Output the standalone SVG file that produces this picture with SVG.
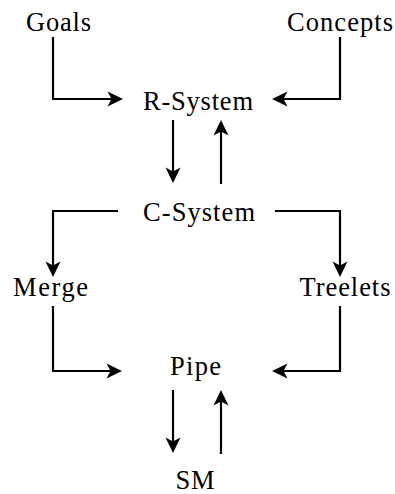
<svg xmlns="http://www.w3.org/2000/svg" width="395" height="494" viewBox="0 0 395 494">
<defs>
<style>
text{font-family:"Liberation Serif","Times New Roman",serif;font-size:26.5px;fill:#000;text-anchor:middle}
.c{fill:none;stroke:#000;stroke-width:2.2}
</style>
<marker id="ah" viewBox="-10 -9 18 18" markerWidth="18" markerHeight="18" refX="0" refY="0" markerUnits="userSpaceOnUse" orient="auto">
<path d="M7,0 L-8.5,-7.5 L-4.5,0 L-8.5,7.5 Z" fill="#000"/>
</marker>
</defs>
<rect width="395" height="494" fill="#fff"/>
<g id="connectors">
<path class="c" d="M53,37 V99 H116" marker-end="url(#ah)"/>
<path class="c" d="M340,37 V99 H279" marker-end="url(#ah)"/>
<path class="c" d="M173,120 V176" marker-end="url(#ah)"/>
<path class="c" d="M221,184 V127" marker-end="url(#ah)"/>
<path class="c" d="M118,211 H53 V270" marker-end="url(#ah)"/>
<path class="c" d="M275,211 H340 V270" marker-end="url(#ah)"/>
<path class="c" d="M53,306 V371 H115" marker-end="url(#ah)"/>
<path class="c" d="M340,306 V371 H279" marker-end="url(#ah)"/>
<path class="c" d="M173,390 V446" marker-end="url(#ah)"/>
<path class="c" d="M221,454 V397" marker-end="url(#ah)"/>
</g>
<g id="goals"><text x="58.5" y="31" textLength="65">Goals</text></g>
<g id="concepts"><text x="340" y="31" textLength="106">Concepts</text></g>
<g id="r-system"><text x="198" y="110" textLength="110">R-System</text></g>
<g id="c-system"><text x="199" y="221" textLength="112">C-System</text></g>
<g id="merge"><text x="50.5" y="296" textLength="75">Merge</text></g>
<g id="treelets"><text x="345" y="296" textLength="91">Treelets</text></g>
<g id="pipe"><text x="195.5" y="375" textLength="51">Pipe</text></g>
<g id="sm"><text x="195" y="489" textLength="39">SM</text></g>
</svg>
